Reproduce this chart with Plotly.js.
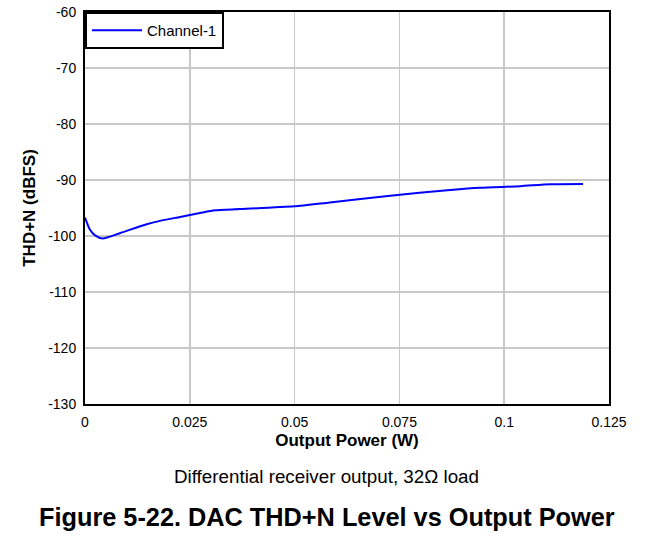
<!DOCTYPE html>
<html>
<head>
<meta charset="utf-8">
<script src="https://cdn.plot.ly/plotly-3.0.1.min.js"></script>
<style>
html,body{margin:0;padding:0;background:#fff;}
#chart{width:653px;height:539px;}
</style>
</head>
<body>
<div id="chart"></div>
<script>
// Output power (W)
var outputPower = [0, 0.0012, 0.0024, 0.0042, 0.0083, 0.0147, 0.0179, 0.0227, 0.0274, 0.031, 0.037, 0.0499, 0.0584, 0.0728, 0.0871, 0.0942, 0.1038, 0.111, 0.1188];
// THD+N (dBFS)
var thdnChannel1 = [-96.7, -98.9, -99.9, -100.45, -99.5, -97.9, -97.3, -96.6, -95.9, -95.4, -95.2, -94.7, -94.0, -92.8, -91.8, -91.4, -91.1, -90.75, -90.7];
var seriesName = "Channel-1";
var xTickVals = [0, 0.025, 0.05, 0.075, 0.1, 0.125];
var xTickText = ["0", "0.025", "0.05", "0.075", "0.1", "0.125"];
var yTickVals = [-130, -120, -110, -100, -90, -80, -70, -60];
var yTickText = ["-130", "-120", "-110", "-100", "-90", "-80", "-70", "-60"];
var xTitle = "Output Power (W)";
var yTitle = "THD+N (dBFS)";
var captionText = "Differential receiver output, 32Ω load";
var figureTitle = "Figure 5-22. DAC THD+N Level vs Output Power";

var FONT = "Liberation Sans, Arial, sans-serif";
var W = 653, ML = 85, MR = 44;
var pageCenterPaperX = (W / 2 - ML) / (W - ML - MR);

var trace = {
  x: outputPower,
  y: thdnChannel1,
  type: "scatter",
  mode: "lines",
  name: seriesName,
  line: {color: "#0000ff", width: 2, shape: "spline", smoothing: 0.6}
};

var layout = {
  width: W,
  height: 539,
  margin: {l: ML, r: MR, t: 12, b: 135},
  paper_bgcolor: "#ffffff",
  plot_bgcolor: "#ffffff",
  font: {family: FONT, color: "#000000", size: 14},
  showlegend: true,
  legend: {
    x: 0, y: 1, xanchor: "left", yanchor: "top",
    bgcolor: "#ffffff", bordercolor: "#000000", borderwidth: 2,
    itemwidth: 50,
    font: {family: FONT, size: 15, color: "#000000"}
  },
  xaxis: {
    range: [0, 0.125],
    tickmode: "array", tickvals: xTickVals, ticktext: xTickText,
    showgrid: true, gridcolor: "#c8c8c8", gridwidth: 1.5,
    showline: true, linecolor: "#000000", linewidth: 2, mirror: true,
    zeroline: false, ticks: "", ticklabelstandoff: 4,
    tickfont: {family: FONT, size: 14, color: "#000000"},
    title: {text: "<b>" + xTitle + "</b>", font: {family: FONT, size: 17, color: "#000000"}, standoff: 5}
  },
  yaxis: {
    range: [-130, -60],
    tickmode: "array", tickvals: yTickVals, ticktext: yTickText,
    showgrid: true, gridcolor: "#c8c8c8", gridwidth: 1.5,
    showline: true, linecolor: "#000000", linewidth: 2, mirror: true,
    zeroline: false, ticks: "", ticklabelstandoff: 4,
    tickfont: {family: FONT, size: 14, color: "#000000"},
    title: {text: "<b>" + yTitle + "</b>", font: {family: FONT, size: 17, color: "#000000"}, standoff: 8}
  },
  annotations: [
    {text: captionText, xref: "paper", yref: "paper", x: pageCenterPaperX, y: -0.184, xanchor: "center", yanchor: "middle",
     showarrow: false, font: {family: FONT, size: 18.8, color: "#000000"}},
    {text: "<b>" + figureTitle + "</b>", xref: "paper", yref: "paper", x: pageCenterPaperX, y: -0.288, xanchor: "center", yanchor: "middle",
     showarrow: false, font: {family: FONT, size: 25.3, color: "#000000"}}
  ]
};

Plotly.newPlot("chart", [trace], layout, {displayModeBar: false, staticPlot: true});
</script>
</body>
</html>
